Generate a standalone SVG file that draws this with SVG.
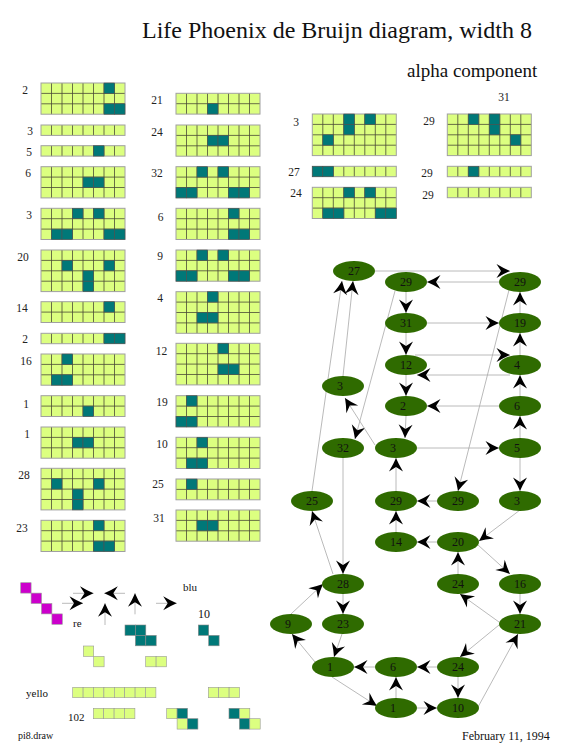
<svg xmlns="http://www.w3.org/2000/svg" width="562" height="750" viewBox="0 0 562 750">
<style>
.bg{fill:#dcff80}
.ln{stroke:#4a4a36;stroke-width:.8;fill:none}
.fr{fill:none;stroke:#a0a0a0;stroke-width:1}
.dk{fill:#007878;stroke:#505050;stroke-width:.6}
.lab{font-family:"Liberation Serif",serif;font-size:11.5px;fill:#222;text-anchor:middle}
.node ellipse{fill:#2f6b00}
.node text{font-family:"Liberation Serif",serif;font-size:12px;fill:#111}
.edge{stroke:#a8a8a8;stroke-width:.8;fill:none;marker-end:url(#ah)}
.mg{fill:#cc00cc;stroke:#999;stroke-width:.6}
.lt{fill:#dcff80;stroke:#999;stroke-width:.6}
.tl{fill:#007878;stroke:#888;stroke-width:.6}
.txt{font-family:"Liberation Serif",serif;fill:#111}
</style>
<defs>
<marker id="ah" markerUnits="userSpaceOnUse" markerWidth="16" markerHeight="16" viewBox="-15 -8 16 16" refX="0" refY="0" orient="auto" overflow="visible">
<path d="M0 0 Q-6 -2.5 -13.5 -7 L-9 0 L-13.5 7 Q-6 2.5 0 0Z" fill="#000"/>
</marker>
<rect id="d" class="dk" width="10.5" height="10.4"/>
<g id="g1"><rect class="bg" width="84" height="10.4"/><path class="ln" d="M10.5 0V10.4M21 0V10.4M31.5 0V10.4M42 0V10.4M52.5 0V10.4M63 0V10.4M73.5 0V10.4"/><rect class="fr" width="84" height="10.4"/></g>
<g id="g2"><rect class="bg" width="84" height="20.8"/><path class="ln" d="M10.5 0V20.8M21 0V20.8M31.5 0V20.8M42 0V20.8M52.5 0V20.8M63 0V20.8M73.5 0V20.8M0 10.4H84"/><rect class="fr" width="84" height="20.8"/></g>
<g id="g3"><rect class="bg" width="84" height="31.2"/><path class="ln" d="M10.5 0V31.2M21 0V31.2M31.5 0V31.2M42 0V31.2M52.5 0V31.2M63 0V31.2M73.5 0V31.2M0 10.4H84M0 20.8H84"/><rect class="fr" width="84" height="31.2"/></g>
<g id="g4"><rect class="bg" width="84" height="41.6"/><path class="ln" d="M10.5 0V41.6M21 0V41.6M31.5 0V41.6M42 0V41.6M52.5 0V41.6M63 0V41.6M73.5 0V41.6M0 10.4H84M0 20.8H84M0 31.2H84"/><rect class="fr" width="84" height="41.6"/></g>
</defs>
<rect width="562" height="750" fill="#fff"/>
<text class="txt" x="142" y="38" font-size="24">Life Phoenix de Bruijn diagram, width 8</text>
<text class="txt" x="407" y="77" font-size="19">alpha component</text>

<!-- left column -->
<g id="gridL1"><text class="lab" x="25" y="93.5">2</text><g transform="translate(41,83)"><use href="#g3"/><use href="#d" x="63" y="0"/><use href="#d" x="63" y="20.8"/><use href="#d" x="73.5" y="20.8"/></g></g>
<g id="gridL2"><text class="lab" x="30" y="134.5">3</text><g transform="translate(41,125)"><use href="#g1"/></g></g>
<g id="gridL3"><text class="lab" x="29" y="155.5">5</text><g transform="translate(41,145.7)"><use href="#g1"/><use href="#d" x="52.5" y="0"/></g></g>
<g id="gridL4"><text class="lab" x="28" y="177">6</text><g transform="translate(41,166.7)"><use href="#g3"/><use href="#d" x="42" y="10.4"/><use href="#d" x="52.5" y="10.4"/></g></g>
<g id="gridL5"><text class="lab" x="29" y="219">3</text><g transform="translate(41,208.3)"><use href="#g3"/><use href="#d" x="31.5" y="0"/><use href="#d" x="52.5" y="0"/><use href="#d" x="10.5" y="20.8"/><use href="#d" x="21" y="20.8"/><use href="#d" x="63" y="20.8"/><use href="#d" x="73.5" y="20.8"/></g></g>
<g id="gridL6"><text class="lab" x="23" y="261">20</text><g transform="translate(41,250)"><use href="#g4"/><use href="#d" x="21" y="10.4"/><use href="#d" x="63" y="10.4"/><use href="#d" x="42" y="20.8"/><use href="#d" x="42" y="31.2"/></g></g>
<g id="gridL7"><text class="lab" x="22" y="312">14</text><g transform="translate(41,301.7)"><use href="#g2"/><use href="#d" x="63" y="0"/></g></g>
<g id="gridL8"><text class="lab" x="25" y="343">2</text><g transform="translate(41,333.3)"><use href="#g1"/><use href="#d" x="63" y="0"/><use href="#d" x="73.5" y="0"/></g></g>
<g id="gridL9"><text class="lab" x="26" y="365">16</text><g transform="translate(41,354)"><use href="#g3"/><use href="#d" x="21" y="0"/><use href="#d" x="10.5" y="20.8"/><use href="#d" x="21" y="20.8"/></g></g>
<g id="gridL10"><text class="lab" x="26" y="408">1</text><g transform="translate(41,395.7)"><use href="#g2"/><use href="#d" x="42" y="10.4"/></g></g>
<g id="gridL11"><text class="lab" x="27" y="437.5">1</text><g transform="translate(41,427)"><use href="#g3"/><use href="#d" x="31.5" y="10.4"/><use href="#d" x="42" y="10.4"/></g></g>
<g id="gridL12"><text class="lab" x="24" y="479">28</text><g transform="translate(41,468.3)"><use href="#g4"/><use href="#d" x="10.5" y="10.4"/><use href="#d" x="52.5" y="10.4"/><use href="#d" x="31.5" y="20.8"/><use href="#d" x="31.5" y="31.2"/></g></g>
<g id="gridL13"><text class="lab" x="22" y="532">23</text><g transform="translate(41,520.3)"><use href="#g3"/><use href="#d" x="52.5" y="0"/><use href="#d" x="52.5" y="20.8"/><use href="#d" x="63" y="20.8"/></g></g>

<!-- middle column -->
<g id="gridM1"><text class="lab" x="157" y="104">21</text><g transform="translate(176,93.3)"><use href="#g2"/><use href="#d" x="31.5" y="10.4"/></g></g>
<g id="gridM2"><text class="lab" x="157" y="136">24</text><g transform="translate(176,125)"><use href="#g3"/><use href="#d" x="31.5" y="10.4"/><use href="#d" x="42" y="10.4"/></g></g>
<g id="gridM3"><text class="lab" x="157" y="177">32</text><g transform="translate(176,166.7)"><use href="#g3"/><use href="#d" x="21" y="0"/><use href="#d" x="42" y="0"/><use href="#d" x="0" y="20.8"/><use href="#d" x="10.5" y="20.8"/><use href="#d" x="52.5" y="20.8"/><use href="#d" x="63" y="20.8"/></g></g>
<g id="gridM4"><text class="lab" x="160.5" y="221">6</text><g transform="translate(176,208.3)"><use href="#g3"/><use href="#d" x="52.5" y="0"/><use href="#d" x="52.5" y="20.8"/><use href="#d" x="63" y="20.8"/></g></g>
<g id="gridM5"><text class="lab" x="160" y="259.5">9</text><g transform="translate(176,250)"><use href="#g3"/><use href="#d" x="21" y="0"/><use href="#d" x="42" y="0"/><use href="#d" x="0" y="20.8"/><use href="#d" x="10.5" y="20.8"/><use href="#d" x="52.5" y="20.8"/><use href="#d" x="63" y="20.8"/></g></g>
<g id="gridM6"><text class="lab" x="160" y="302">4</text><g transform="translate(176,291.7)"><use href="#g4"/><use href="#d" x="31.5" y="0"/><use href="#d" x="21" y="20.8"/><use href="#d" x="31.5" y="20.8"/></g></g>
<g id="gridM7"><text class="lab" x="161.5" y="355">12</text><g transform="translate(176,343.3)"><use href="#g4"/><use href="#d" x="42" y="0"/><use href="#d" x="42" y="20.8"/><use href="#d" x="52.5" y="20.8"/></g></g>
<g id="gridM8"><text class="lab" x="162" y="406">19</text><g transform="translate(176,395.7)"><use href="#g3"/><use href="#d" x="10.5" y="0"/><use href="#d" x="0" y="20.8"/><use href="#d" x="10.5" y="20.8"/></g></g>
<g id="gridM9"><text class="lab" x="162" y="448">10</text><g transform="translate(176,437.3)"><use href="#g3"/><use href="#d" x="21" y="0"/><use href="#d" x="10.5" y="20.8"/><use href="#d" x="21" y="20.8"/></g></g>
<g id="gridM10"><text class="lab" x="158" y="487.5">25</text><g transform="translate(176,479)"><use href="#g2"/><use href="#d" x="10.5" y="0"/></g></g>
<g id="gridM11"><text class="lab" x="159" y="522">31</text><g transform="translate(176,510)"><use href="#g3"/><use href="#d" x="21" y="10.4"/><use href="#d" x="31.5" y="10.4"/></g></g>

<!-- right grids -->
<g id="gridR1"><text class="lab" x="296" y="126">3</text><g transform="translate(312.3,114)"><use href="#g4"/><use href="#d" x="31.5" y="0"/><use href="#d" x="52.5" y="0"/><use href="#d" x="31.5" y="10.4"/><use href="#d" x="10.5" y="20.8"/></g></g>
<g id="gridR2"><text class="lab" x="294" y="176">27</text><g transform="translate(312.3,166.3)"><use href="#g1"/><use href="#d" x="0" y="0"/><use href="#d" x="10.5" y="0"/></g></g>
<g id="gridR3"><text class="lab" x="296" y="197">24</text><g transform="translate(312.3,187.3)"><use href="#g3"/><use href="#d" x="31.5" y="0"/><use href="#d" x="52.5" y="0"/><use href="#d" x="10.5" y="20.8"/><use href="#d" x="21" y="20.8"/><use href="#d" x="63" y="20.8"/><use href="#d" x="73.5" y="20.8"/></g></g>
<g id="gridR4"><text class="lab" x="504" y="101">31</text><text class="lab" x="429" y="125">29</text><g transform="translate(447.3,114)"><use href="#g4"/><use href="#d" x="21" y="0"/><use href="#d" x="42" y="0"/><use href="#d" x="42" y="10.4"/><use href="#d" x="63" y="20.8"/></g></g>
<g id="gridR5"><text class="lab" x="427" y="177">29</text><g transform="translate(447.3,166.3)"><use href="#g1"/><use href="#d" x="21" y="0"/></g></g>
<g id="gridR6"><text class="lab" x="428" y="199">29</text><g transform="translate(447.3,187.3)"><use href="#g1"/></g></g>

<!-- connectors -->
<g id="connectors">
<path class="edge" d="M375 271H510"/>
<path class="edge" d="M499 282H427"/>
<path class="edge" d="M406 292V313"/>
<path class="edge" d="M395 291L355 439"/>
<path class="edge" d="M427 323H499"/>
<path class="edge" d="M406 333V355"/>
<path class="edge" d="M415 355H510"/>
<path class="edge" d="M510 375H417"/>
<path class="edge" d="M406 375V396"/>
<path class="edge" d="M499 406H427"/>
<path class="edge" d="M520 396V375"/>
<path class="edge" d="M520 355V333"/>
<path class="edge" d="M520 313V292"/>
<path class="edge" d="M406 416L405 438"/>
<path class="edge" d="M375 445L345 398"/>
<path class="edge" d="M417 448H499"/>
<path class="edge" d="M520 438V416"/>
<path class="edge" d="M343 376L353 281"/>
<path class="edge" d="M312 491L342 281"/>
<path class="edge" d="M509 290L458 491"/>
<path class="edge" d="M343 458V574"/>
<path class="edge" d="M333 574L312 511"/>
<path class="edge" d="M396 491V458"/>
<path class="edge" d="M437 501H417"/>
<path class="edge" d="M520 458V491"/>
<path class="edge" d="M520 510L479 541"/>
<path class="edge" d="M396 532V511"/>
<path class="edge" d="M437 542H417"/>
<path class="edge" d="M478 545L510 574"/>
<path class="edge" d="M458 574V552"/>
<path class="edge" d="M499 622L460 594"/>
<path class="edge" d="M520 594V614"/>
<path class="edge" d="M343 594V614"/>
<path class="edge" d="M291 614L323 584"/>
<path class="edge" d="M315 662L292 634"/>
<path class="edge" d="M342 634L334 657"/>
<path class="edge" d="M499 625L460 657"/>
<path class="edge" d="M375 667H354"/>
<path class="edge" d="M437 667H417"/>
<path class="edge" d="M458 677V698"/>
<path class="edge" d="M332 677L377 706"/>
<path class="edge" d="M396 698V677"/>
<path class="edge" d="M417 708H437"/>
<path class="edge" d="M478 707L518 634"/>
</g>

<!-- nodes -->
<g id="n27" class="node"><ellipse cx="354" cy="271" rx="21" ry="10"/><text x="348" y="275">27</text></g>
<g id="n29a" class="node"><ellipse cx="406" cy="282" rx="21" ry="10"/><text x="400" y="286">29</text></g>
<g id="n29b" class="node"><ellipse cx="520" cy="282" rx="21" ry="10"/><text x="514" y="286">29</text></g>
<g id="n31" class="node"><ellipse cx="406" cy="323" rx="21" ry="10"/><text x="400" y="327">31</text></g>
<g id="n19" class="node"><ellipse cx="520" cy="323" rx="21" ry="10"/><text x="514" y="327">19</text></g>
<g id="n12" class="node"><ellipse cx="406" cy="365" rx="21" ry="10"/><text x="400" y="369">12</text></g>
<g id="n4" class="node"><ellipse cx="520" cy="365" rx="21" ry="10"/><text x="514" y="369">4</text></g>
<g id="n3a" class="node"><ellipse cx="343" cy="386" rx="21" ry="10"/><text x="337" y="390">3</text></g>
<g id="n2" class="node"><ellipse cx="406" cy="406" rx="21" ry="10"/><text x="400" y="410">2</text></g>
<g id="n6a" class="node"><ellipse cx="520" cy="406" rx="21" ry="10"/><text x="514" y="410">6</text></g>
<g id="n32" class="node"><ellipse cx="343" cy="448" rx="21" ry="10"/><text x="337" y="452">32</text></g>
<g id="n3b" class="node"><ellipse cx="396" cy="448" rx="21" ry="10"/><text x="390" y="452">3</text></g>
<g id="n5" class="node"><ellipse cx="520" cy="448" rx="21" ry="10"/><text x="514" y="452">5</text></g>
<g id="n25" class="node"><ellipse cx="312" cy="501" rx="21" ry="10"/><text x="306" y="505">25</text></g>
<g id="n29c" class="node"><ellipse cx="396" cy="501" rx="21" ry="10"/><text x="390" y="505">29</text></g>
<g id="n29d" class="node"><ellipse cx="458" cy="501" rx="21" ry="10"/><text x="452" y="505">29</text></g>
<g id="n3c" class="node"><ellipse cx="520" cy="501" rx="21" ry="10"/><text x="514" y="505">3</text></g>
<g id="n14" class="node"><ellipse cx="396" cy="542" rx="21" ry="10"/><text x="390" y="546">14</text></g>
<g id="n20" class="node"><ellipse cx="458" cy="542" rx="21" ry="10"/><text x="452" y="546">20</text></g>
<g id="n28" class="node"><ellipse cx="343" cy="584" rx="21" ry="10"/><text x="337" y="588">28</text></g>
<g id="n24a" class="node"><ellipse cx="458" cy="584" rx="21" ry="10"/><text x="452" y="588">24</text></g>
<g id="n16" class="node"><ellipse cx="520" cy="584" rx="21" ry="10"/><text x="514" y="588">16</text></g>
<g id="n9" class="node"><ellipse cx="291" cy="624" rx="21" ry="10"/><text x="285" y="628">9</text></g>
<g id="n23" class="node"><ellipse cx="343" cy="624" rx="21" ry="10"/><text x="337" y="628">23</text></g>
<g id="n21" class="node"><ellipse cx="520" cy="624" rx="21" ry="10"/><text x="514" y="628">21</text></g>
<g id="n1a" class="node"><ellipse cx="333" cy="667" rx="21" ry="10"/><text x="327" y="671">1</text></g>
<g id="n6b" class="node"><ellipse cx="396" cy="667" rx="21" ry="10"/><text x="390" y="671">6</text></g>
<g id="n24b" class="node"><ellipse cx="458" cy="667" rx="21" ry="10"/><text x="452" y="671">24</text></g>
<g id="n1b" class="node"><ellipse cx="396" cy="708" rx="21" ry="10"/><text x="390" y="712">1</text></g>
<g id="n10" class="node"><ellipse cx="458" cy="708" rx="21" ry="10"/><text x="452" y="712">10</text></g>

<!-- legend -->
<g id="legend">
<rect class="mg" x="20.7" y="582.7" width="10.4" height="10.4"/>
<rect class="mg" x="31.1" y="593.1" width="10.4" height="10.4"/>
<rect class="mg" x="41.5" y="603.5" width="10.4" height="10.4"/>
<rect class="mg" x="51.9" y="613.9" width="10.4" height="10.4"/>
<path class="edge" d="M73 593.3H93.5"/>
<path class="edge" d="M62 603.3H83"/>
<path class="edge" d="M125 593.3H104.3"/>
<path class="edge" d="M105 625V603.3"/>
<path class="edge" d="M135 614.3V593.3"/>
<path class="edge" d="M156 603.3H176.7"/>
<text class="txt" x="73" y="626.5" font-size="11">re</text>
<text class="txt" x="183" y="591" font-size="11">blu</text>
<text class="txt" x="198" y="617.5" font-size="12">10</text>
<rect class="tl" x="125" y="625" width="10.4" height="10.4"/>
<rect class="tl" x="135.4" y="625" width="10.4" height="10.4"/>
<rect class="tl" x="135.4" y="635.4" width="10.4" height="10.4"/>
<rect class="tl" x="145.8" y="635.4" width="10.4" height="10.4"/>
<rect class="tl" x="198.3" y="625" width="10.4" height="10.4"/>
<rect class="tl" x="208.7" y="635.4" width="10.4" height="10.4"/>
<rect class="lt" x="83.3" y="646" width="10.4" height="10.4"/>
<rect class="lt" x="93.7" y="656.4" width="10.4" height="10.4"/>
<rect class="lt" x="145.7" y="656.4" width="10.4" height="10.4"/>
<rect class="lt" x="156.1" y="656.4" width="10.4" height="10.4"/>
<text class="txt" x="26" y="696.5" font-size="11">yello</text>
<rect class="lt" x="72.7" y="687.3" width="10.4" height="10.4"/>
<rect class="lt" x="83.1" y="687.3" width="10.4" height="10.4"/>
<rect class="lt" x="93.5" y="687.3" width="10.4" height="10.4"/>
<rect class="lt" x="103.9" y="687.3" width="10.4" height="10.4"/>
<rect class="lt" x="114.3" y="687.3" width="10.4" height="10.4"/>
<rect class="lt" x="124.7" y="687.3" width="10.4" height="10.4"/>
<rect class="lt" x="135.1" y="687.3" width="10.4" height="10.4"/>
<rect class="lt" x="145.5" y="687.3" width="10.4" height="10.4"/>
<rect class="lt" x="208.3" y="687.3" width="10.4" height="10.4"/>
<rect class="lt" x="218.7" y="687.3" width="10.4" height="10.4"/>
<rect class="lt" x="229.1" y="687.3" width="10.4" height="10.4"/>
<text class="txt" x="68" y="720.5" font-size="11">102</text>
<rect class="lt" x="93.3" y="708.3" width="10.4" height="10.4"/>
<rect class="lt" x="103.7" y="708.3" width="10.4" height="10.4"/>
<rect class="lt" x="114.1" y="708.3" width="10.4" height="10.4"/>
<rect class="lt" x="124.5" y="708.3" width="10.4" height="10.4"/>
<rect class="lt" x="166.7" y="708.3" width="10.4" height="10.4"/>
<rect class="tl" x="177.1" y="708.3" width="10.4" height="10.4"/>
<rect class="lt" x="177.1" y="718.7" width="10.4" height="10.4"/>
<rect class="tl" x="187.5" y="718.7" width="10.4" height="10.4"/>
<rect class="tl" x="229" y="708.3" width="10.4" height="10.4"/>
<rect class="lt" x="239.4" y="708.3" width="10.4" height="10.4"/>
<rect class="tl" x="239.4" y="718.7" width="10.4" height="10.4"/>
<rect class="lt" x="249.8" y="718.7" width="10.4" height="10.4"/>
</g>
<text class="txt" x="18" y="739" font-size="10">pi8.draw</text>
<text class="txt" x="462" y="740" font-size="12">February 11, 1994</text>
</svg>
